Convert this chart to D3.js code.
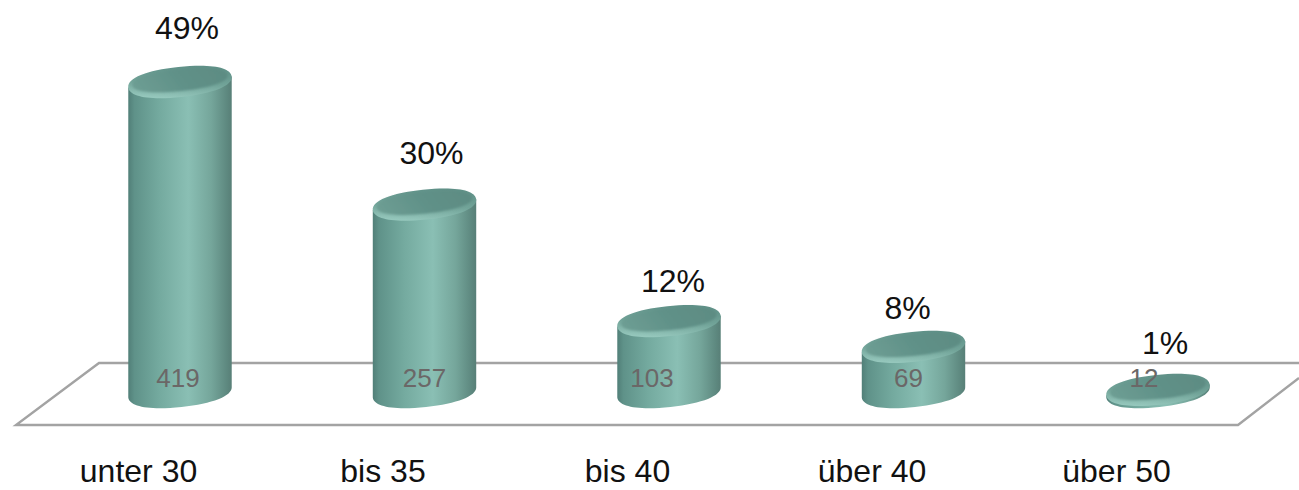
<!DOCTYPE html>
<html>
<head>
<meta charset="utf-8">
<script src="https://cdn.jsdelivr.net/npm/d3@7"></script>
<style>
    html, body { margin: 0; padding: 0; background: #fff; overflow: hidden; }
    text { font-family: "Liberation Sans", Arial, sans-serif; }
</style>
</head>
<body>
<svg id="chart"></svg>
<script>
const categories = ['unter 30', 'bis 35', 'bis 40', 'über 40', 'über 50'];
const counts = [419, 257, 103, 69, 12];
const percents = [49, 30, 12, 8, 1];

// hand placed label nudges, the original labels do not sit centred on the bars
const percentDx = [7, 7, 4, -6, 7];
const percentDy = [-43, -41, -29, -28, -36];
const countDx = [-2, 0, -17, -5, -14];

const width = 1299, height = 490;
const rx = 52, ry = 15;
const tilt = 6;
const kappa = 0.62;   // a bit rounder than a true ellipse, closer to the original shoulders
const baseY = 392;

const svg = d3.select('#chart')
    .attr('width', width)
    .attr('height', height);

const xscale = d3.scalePoint()
    .domain(categories)
    .range([180, 1158]);

const yscale = d3.scaleLinear()
    .domain([0, 419])
    .range([399, 82]);

const defs = svg.append('defs');

const bodyGrad = defs.append('linearGradient').attr('id', 'body');
[[0, '#517f78'], [0.06, '#5f9289'], [0.3, '#74aa9f'], [0.58, '#8abfb4'], [0.8, '#75a69b'], [0.95, '#5e8980'], [1, '#587f77']]
    .forEach(s => bodyGrad.append('stop').attr('offset', s[0]).attr('stop-color', s[1]));

const rimGrad = defs.append('linearGradient').attr('id', 'rim')
    .attr('x1', 0.6).attr('y1', 0).attr('x2', 0.45).attr('y2', 1);
[[0, '#5f9087'], [0.55, '#72a499'], [1, '#95c7bc']]
    .forEach(s => rimGrad.append('stop').attr('offset', s[0]).attr('stop-color', s[1]));

const capGrad = defs.append('linearGradient').attr('id', 'cap')
    .attr('x1', 0).attr('y1', 0.6).attr('x2', 1).attr('y2', 0.4);
[[0, '#6d9d93'], [0.5, '#609188'], [1, '#5d8c83']]
    .forEach(s => capGrad.append('stop').attr('offset', s[0]).attr('stop-color', s[1]));

defs.append('filter').attr('id', 'soft')
    .append('feGaussianBlur').attr('stdDeviation', 1.2);

// rotates a point of the flat outline by the tilt, around (0, cy)
function tilted(px, py, cy) {
    const a = -tilt * Math.PI / 180;
    return [px * Math.cos(a) - py * Math.sin(a), cy + px * Math.sin(a) + py * Math.cos(a)];
}

// lower half of the outline from left to right
function lowerHalf(p, a, b, cy) {
    const c1 = tilted(-a, b * kappa, cy), c2 = tilted(-a * kappa, b, cy), m = tilted(0, b, cy);
    const c3 = tilted(a * kappa, b, cy), c4 = tilted(a, b * kappa, cy), e = tilted(a, 0, cy);
    p.bezierCurveTo(c1[0], c1[1], c2[0], c2[1], m[0], m[1]);
    p.bezierCurveTo(c3[0], c3[1], c4[0], c4[1], e[0], e[1]);
}

function upperHalf(p, a, b, cy) {
    const c1 = tilted(a, -b * kappa, cy), c2 = tilted(a * kappa, -b, cy), m = tilted(0, -b, cy);
    const c3 = tilted(-a * kappa, -b, cy), c4 = tilted(-a, -b * kappa, cy), e = tilted(-a, 0, cy);
    p.bezierCurveTo(c1[0], c1[1], c2[0], c2[1], m[0], m[1]);
    p.bezierCurveTo(c3[0], c3[1], c4[0], c4[1], e[0], e[1]);
}

function capPath(a, b, cy) {
    const p = d3.path();
    const s = tilted(-a, 0, cy);
    p.moveTo(s[0], s[1]);
    lowerHalf(p, a, b, cy);
    upperHalf(p, a, b, cy);
    p.closePath();
    return p.toString();
}

function bodyPath(top) {
    const p = d3.path();
    const tl = tilted(-rx, 0, top), bl = tilted(-rx, 0, baseY), tr = tilted(rx, 0, top);
    p.moveTo(tl[0], tl[1]);
    p.lineTo(bl[0], bl[1]);
    lowerHalf(p, rx, ry, baseY);
    p.lineTo(tr[0], tr[1]);
    p.closePath();
    return p.toString();
}

// floor
const floor = svg.append('g')
    .attr('fill', 'none')
    .attr('stroke', '#a3a3a3')
    .attr('stroke-width', 2.4);
floor.append('path').attr('d', 'M1299,363H99L16,425H1238L1299,378');

// cylinders
const bars = svg.selectAll('.bar')
    .data(categories.map((c, i) => ({ category: c, count: counts[i], percent: percents[i], i })))
    .join('g')
    .attr('class', 'bar')
    .attr('transform', d => `translate(${xscale(d.category)},0)`);

bars.append('path')
    .attr('fill', 'url(#body)')
    .attr('d', d => bodyPath(yscale(d.count)));

bars.append('path')
    .attr('fill', 'url(#rim)')
    .attr('d', d => capPath(rx, ry, yscale(d.count)));

bars.append('path')
    .attr('fill', 'url(#cap)')
    .attr('filter', 'url(#soft)')
    .attr('d', d => capPath(rx - 4, ry - 4, yscale(d.count) - 2));

// labels
bars.append('text')
    .attr('x', d => countDx[d.i])
    .attr('y', 387)
    .attr('text-anchor', 'middle')
    .attr('font-size', 26)
    .attr('fill', '#6b6767')
    .text(d => d.count);

bars.append('text')
    .attr('x', d => percentDx[d.i])
    .attr('y', d => yscale(d.count) + percentDy[d.i])
    .attr('text-anchor', 'middle')
    .attr('font-size', 32)
    .attr('fill', '#111')
    .text(d => d.percent + '%');

const xaxis = d3.axisBottom(xscale).tickSize(0).tickPadding(0);
const xaxisGroup = svg.append('g')
    .attr('transform', 'translate(-42,459)')
    .call(xaxis);
xaxisGroup.select('.domain').remove();
xaxisGroup.selectAll('text')
    .attr('font-family', '"Liberation Sans", Arial, sans-serif')
    .attr('font-size', 32)
    .attr('fill', '#111');
</script>
</body>
</html>
